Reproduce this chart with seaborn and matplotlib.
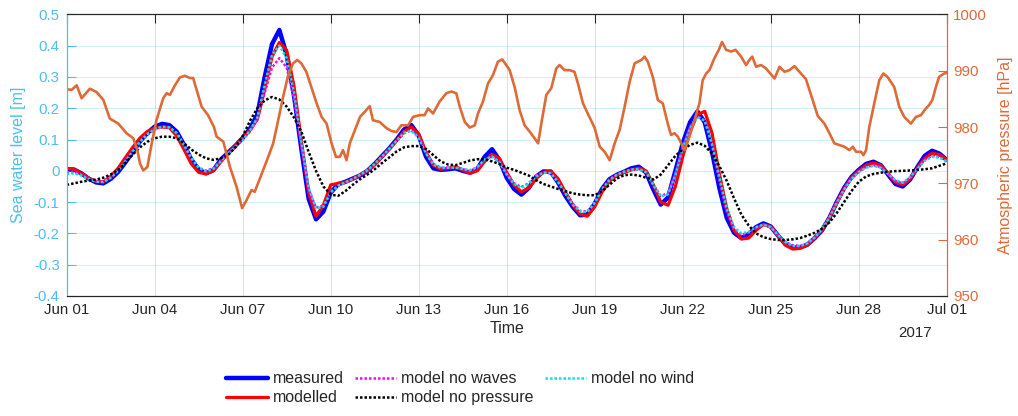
# Imports:
import numpy as np
import pandas as pd
import matplotlib
matplotlib.use("Agg")
import matplotlib.pyplot as plt
import matplotlib.dates as mdates
from matplotlib.ticker import FuncFormatter, MultipleLocator
import seaborn as sns

# Data:
# Sea level series sampled every 6 hours from 2017-06-01 00:00
start = pd.Timestamp("2017-06-01")
tide_days = np.arange(0, 30.01, 0.25)

measured = [
    0.005, 0.004, -0.008, -0.025, -0.037, -0.040, -0.026, -0.004,
    0.027, 0.060, 0.094, 0.121, 0.141, 0.150, 0.146, 0.125,
    0.083, 0.036, 0.004, -0.008, 0.002, 0.035, 0.058, 0.080,
    0.105, 0.135, 0.180, 0.300, 0.405, 0.450, 0.370, 0.240,
    0.070, -0.090, -0.155, -0.130, -0.070, -0.043, -0.035, -0.025,
    -0.015, 0.000, 0.022, 0.047, 0.072, 0.100, 0.132, 0.146,
    0.113, 0.045, 0.008, 0.003, 0.005, 0.008, 0.000, -0.006,
    0.006, 0.045, 0.069, 0.035, -0.022, -0.058, -0.076, -0.055,
    -0.019, -0.002, -0.003, -0.037, -0.080, -0.115, -0.142, -0.140,
    -0.105, -0.058, -0.027, -0.013, -0.003, 0.008, 0.013, -0.005,
    -0.060, -0.108, -0.085, 0.000, 0.088, 0.155, 0.190, 0.155,
    0.060, -0.055, -0.150, -0.198, -0.215, -0.202, -0.180, -0.168,
    -0.178, -0.207, -0.234, -0.245, -0.245, -0.236, -0.215, -0.190,
    -0.150, -0.100, -0.055, -0.020, 0.003, 0.022, 0.029, 0.018,
    -0.012, -0.042, -0.050, -0.028, 0.012, 0.048, 0.064, 0.055,
    0.035,
]

modelled = [
    0.008, 0.005, -0.008, -0.024, -0.034, -0.035, -0.018, 0.008,
    0.042, 0.075, 0.105, 0.126, 0.136, 0.140, 0.138, 0.112,
    0.068, 0.022, -0.005, -0.010, 0.000, 0.028, 0.055, 0.080,
    0.105, 0.130, 0.165, 0.260, 0.365, 0.410, 0.385, 0.270,
    0.095, -0.070, -0.145, -0.110, -0.045, -0.040, -0.036, -0.027,
    -0.013, 0.000, 0.020, 0.045, 0.070, 0.097, 0.125, 0.140,
    0.118, 0.060, 0.018, 0.005, 0.008, 0.013, 0.003, -0.008,
    0.000, 0.030, 0.052, 0.040, -0.005, -0.045, -0.067, -0.055,
    -0.025, -0.005, 0.000, -0.025, -0.068, -0.108, -0.138, -0.145,
    -0.115, -0.068, -0.033, -0.015, -0.005, 0.003, 0.008, 0.000,
    -0.045, -0.100, -0.110, -0.050, 0.045, 0.125, 0.180, 0.190,
    0.120, -0.010, -0.120, -0.190, -0.218, -0.215, -0.190, -0.172,
    -0.178, -0.208, -0.238, -0.250, -0.248, -0.237, -0.215, -0.190,
    -0.150, -0.102, -0.058, -0.022, 0.000, 0.018, 0.025, 0.018,
    -0.008, -0.036, -0.045, -0.026, 0.010, 0.040, 0.056, 0.052,
    0.035,
]

no_waves = [
    -0.005, -0.003, -0.012, -0.025, -0.033, -0.035, -0.022, 0.000,
    0.030, 0.062, 0.092, 0.115, 0.132, 0.140, 0.138, 0.120,
    0.082, 0.040, 0.010, 0.000, 0.008, 0.032, 0.055, 0.075,
    0.100, 0.125, 0.165, 0.250, 0.330, 0.360, 0.330, 0.230,
    0.080, -0.060, -0.118, -0.110, -0.070, -0.048, -0.038, -0.027,
    -0.015, 0.000, 0.020, 0.045, 0.070, 0.095, 0.120, 0.130,
    0.110, 0.060, 0.022, 0.010, 0.010, 0.010, 0.005, 0.000,
    0.010, 0.035, 0.045, 0.030, -0.010, -0.040, -0.052, -0.040,
    -0.015, -0.005, -0.008, -0.035, -0.070, -0.105, -0.128, -0.130,
    -0.100, -0.058, -0.028, -0.012, -0.003, 0.003, 0.005, -0.005,
    -0.045, -0.080, -0.072, -0.010, 0.075, 0.140, 0.175, 0.160,
    0.080, -0.030, -0.130, -0.185, -0.205, -0.198, -0.182, -0.172,
    -0.180, -0.205, -0.228, -0.238, -0.240, -0.232, -0.212, -0.185,
    -0.148, -0.100, -0.058, -0.025, -0.003, 0.012, 0.018, 0.012,
    -0.010, -0.032, -0.040, -0.022, 0.008, 0.035, 0.048, 0.044,
    0.030,
]

no_wind = [
    -0.010, -0.008, -0.015, -0.027, -0.035, -0.036, -0.022, 0.000,
    0.030, 0.062, 0.093, 0.117, 0.133, 0.141, 0.139, 0.121,
    0.083, 0.040, 0.010, -0.002, 0.006, 0.030, 0.055, 0.077,
    0.100, 0.128, 0.170, 0.275, 0.370, 0.400, 0.360, 0.250,
    0.090, -0.055, -0.120, -0.115, -0.068, -0.048, -0.037, -0.026,
    -0.013, 0.002, 0.022, 0.046, 0.071, 0.097, 0.122, 0.128,
    0.105, 0.055, 0.020, 0.010, 0.010, 0.010, 0.006, 0.002,
    0.012, 0.036, 0.046, 0.028, -0.012, -0.042, -0.055, -0.042,
    -0.018, -0.006, -0.008, -0.036, -0.072, -0.108, -0.130, -0.132,
    -0.102, -0.060, -0.030, -0.013, -0.003, 0.004, 0.006, -0.004,
    -0.045, -0.082, -0.075, -0.012, 0.072, 0.138, 0.172, 0.160,
    0.085, -0.020, -0.120, -0.180, -0.200, -0.195, -0.180, -0.172,
    -0.180, -0.205, -0.228, -0.240, -0.240, -0.232, -0.213, -0.186,
    -0.150, -0.103, -0.060, -0.026, -0.004, 0.010, 0.016, 0.010,
    -0.010, -0.030, -0.038, -0.020, 0.007, 0.032, 0.045, 0.042,
    0.030,
]

no_pressure = [
    -0.045, -0.040, -0.035, -0.031, -0.028, -0.022, -0.012, 0.003,
    0.025, 0.052, 0.075, 0.093, 0.104, 0.109, 0.109, 0.104,
    0.088, 0.068, 0.052, 0.040, 0.035, 0.040, 0.050, 0.075,
    0.110, 0.160, 0.200, 0.225, 0.236, 0.228, 0.205, 0.170,
    0.125, 0.060, 0.000, -0.050, -0.076, -0.080, -0.065, -0.045,
    -0.027, -0.012, 0.005, 0.025, 0.043, 0.062, 0.075, 0.079,
    0.079, 0.070, 0.050, 0.030, 0.020, 0.018, 0.025, 0.033,
    0.037, 0.037, 0.030, 0.022, 0.010, 0.003, -0.006, -0.015,
    -0.030, -0.042, -0.050, -0.058, -0.065, -0.072, -0.076, -0.078,
    -0.078, -0.065, -0.045, -0.025, -0.014, -0.012, -0.015, -0.022,
    -0.028, -0.012, 0.018, 0.048, 0.068, 0.083, 0.090, 0.080,
    0.055, 0.015, -0.032, -0.088, -0.140, -0.175, -0.200, -0.212,
    -0.218, -0.221, -0.221, -0.219, -0.215, -0.207, -0.198, -0.185,
    -0.165, -0.135, -0.100, -0.065, -0.035, -0.018, -0.010, -0.006,
    -0.003, -0.001, 0.000, 0.001, 0.003, 0.005, 0.008, 0.016,
    0.024,
]

# Atmospheric pressure (day offset from Jun 01, hPa)
pressure_days = [
    0.00, 0.17, 0.34, 0.51, 0.79, 1.02, 1.25, 1.47, 1.76, 2.04,
    2.27, 2.41, 2.50, 2.61, 2.75, 2.90, 3.06, 3.29, 3.41, 3.52,
    3.69, 3.86, 4.03, 4.20, 4.31, 4.43, 4.60, 4.82, 5.02, 5.11,
    5.34, 5.56, 5.79, 5.98, 6.13, 6.30, 6.41, 6.59, 6.87, 7.04,
    7.21, 7.38, 7.55, 7.72, 7.86, 8.00, 8.17, 8.34, 8.52, 8.69,
    8.86, 9.03, 9.18, 9.31, 9.42, 9.54, 9.65, 9.82, 10.00, 10.16,
    10.33, 10.44, 10.67, 10.90, 11.07, 11.24, 11.41, 11.64, 11.81, 12.03,
    12.20, 12.32, 12.49, 12.71, 12.94, 13.11, 13.28, 13.40, 13.57, 13.74,
    13.91, 14.02, 14.19, 14.36, 14.53, 14.70, 14.85, 14.98, 15.10, 15.27,
    15.44, 15.61, 15.78, 15.95, 16.07, 16.18, 16.35, 16.52, 16.69, 16.80,
    16.97, 17.14, 17.31, 17.43, 17.60, 17.82, 18.00, 18.17, 18.34, 18.51,
    18.68, 18.85, 19.02, 19.19, 19.36, 19.47, 19.59, 19.70, 19.81, 19.98,
    20.15, 20.32, 20.49, 20.60, 20.72, 20.83, 20.95, 21.06, 21.23, 21.40,
    21.57, 21.68, 21.80, 21.91, 22.08, 22.23, 22.34, 22.48, 22.65, 22.80,
    22.99, 23.16, 23.27, 23.37, 23.50, 23.67, 23.84, 24.13, 24.30, 24.47,
    24.64, 24.81, 24.98, 25.20, 25.43, 25.60, 25.83, 26.00, 26.17, 26.34,
    26.51, 26.68, 26.80, 26.91, 27.08, 27.16, 27.25, 27.36, 27.53, 27.70,
    27.84, 27.98, 28.21, 28.38, 28.55, 28.78, 28.95, 29.12, 29.29, 29.40,
    29.51, 29.63, 29.74, 29.91, 30.00,
]

pressure_hpa = [
    986.7, 986.6, 987.4, 985.1, 986.8, 986.2, 984.8, 981.5, 980.6, 978.9,
    978.0, 975.9, 973.5, 972.3, 972.9, 977.1, 981.2, 985.1, 986.0, 985.7,
    987.4, 988.8, 989.1, 988.7, 988.7, 986.6, 983.6, 982.1, 980.0, 978.3,
    977.4, 973.0, 969.4, 965.6, 967.0, 968.8, 968.5, 970.9, 974.7, 977.1,
    981.2, 985.4, 989.2, 991.3, 991.9, 991.3, 989.8, 987.1, 984.2, 981.8,
    980.6, 977.1, 974.7, 974.7, 975.9, 974.1, 977.1, 979.4, 981.8, 982.7,
    983.7, 981.2, 980.9, 979.8, 979.3, 979.1, 980.3, 980.3, 981.8, 982.1,
    982.1, 983.3, 982.4, 984.5, 986.0, 986.3, 986.0, 983.6, 980.9, 979.9,
    980.3, 982.4, 984.5, 987.7, 989.2, 991.6, 992.0, 991.0, 990.1, 987.1,
    983.0, 980.3, 979.2, 978.0, 977.1, 980.6, 985.7, 986.9, 990.4, 991.0,
    990.1, 990.1, 989.8, 987.7, 984.2, 981.8, 979.8, 976.5, 975.6, 974.1,
    977.1, 979.5, 983.6, 988.0, 991.3, 991.6, 991.9, 992.5, 991.6, 988.9,
    984.8, 984.2, 980.6, 978.6, 978.9, 978.3, 977.1, 975.9, 978.3, 981.2,
    984.2, 988.3, 989.5, 990.1, 992.2, 993.7, 995.1, 993.7, 993.4, 993.7,
    992.5, 991.0, 991.9, 992.5, 990.7, 991.0, 990.4, 988.6, 990.7, 989.8,
    990.1, 990.8, 989.8, 988.5, 984.8, 982.0, 980.6, 978.9, 977.1, 976.8,
    976.5, 975.9, 976.5, 975.6, 975.6, 975.0, 975.9, 980.0, 984.2, 988.3,
    989.5, 988.9, 987.1, 983.6, 981.8, 980.6, 981.8, 982.1, 983.3, 983.9,
    984.8, 987.1, 988.9, 989.5, 989.6,
]

# Colours:
sea_color = "#4DBEEE"
press_color = "#DE6A38"
dark = "#262626"

# Style:
sns.set_style("white")
plt.rcParams["font.family"] = ["Liberation Sans", "DejaVu Sans"]
plt.rcParams["axes.unicode_minus"] = False

tide_time = start + pd.to_timedelta(tide_days, unit="D")
press_time = start + pd.to_timedelta(pressure_days, unit="D")

# Figure:
fig = plt.figure(figsize=(10.18, 4.16), dpi=100)
ax = fig.add_axes([0.0655, 0.2885, 0.8645, 0.677])
ax2 = ax.twinx()

# Sea level lines:
series = [
    ("measured", measured, "#0000FF", 3.2, "-"),
    ("modelled", modelled, "#FF0000", 2.3, "-"),
    ("model no waves", no_waves, "#FF00FF", 1.8, (0, (1, 0.8))),
    ("model no pressure", no_pressure, "#000000", 1.8, (0, (1, 0.8))),
    ("model no wind", no_wind, "#00E6E6", 1.8, (0, (1, 0.8))),
]
draw_order = [0, 1, 2, 4, 3]
for i in draw_order:
    name, vals, col, lw, ls = series[i]
    sns.lineplot(x=tide_time, y=vals, ax=ax, color=col, linewidth=lw,
                 linestyle=ls, label=name)

# Pressure line:
sns.lineplot(x=press_time, y=pressure_hpa, ax=ax2, color=press_color,
             linewidth=1.9)

# Axes:
ax.set_xlim(start, pd.Timestamp("2017-07-01"))
ax.set_ylim(-0.4, 0.5)
ax2.set_ylim(950, 1000)

ax.set_xticks(pd.date_range("2017-06-01", "2017-07-01", freq="3D"))
ax.xaxis.set_major_formatter(mdates.DateFormatter("%b %d"))
ax.yaxis.set_major_locator(MultipleLocator(0.1))
ax.yaxis.set_major_formatter(FuncFormatter(lambda v, p: f"{round(v, 1):g}".replace("-0", "-0") if abs(v) > 1e-9 else "0"))
ax2.yaxis.set_major_locator(MultipleLocator(10))

ax.set_axisbelow(True)
ax.grid(axis="x", color=dark, alpha=0.15, linewidth=0.7)
ax.grid(axis="y", color=sea_color, alpha=0.25, linewidth=0.7)

ax.tick_params(axis="x", direction="in", length=6.5, width=0.8, colors=dark,
               labelsize=10.8, top=True, pad=5)
ax.tick_params(axis="y", direction="in", length=6.5, width=0.8, colors=sea_color,
               labelsize=10.8, pad=5)
ax2.tick_params(axis="y", direction="in", length=6.5, width=0.8, colors=press_color,
                labelsize=10.8, pad=4.5)

for a in (ax, ax2):
    a.spines["top"].set_color(dark)
    a.spines["bottom"].set_color(dark)
    a.spines["left"].set_color(sea_color)
    a.spines["right"].set_color(press_color)
    for s in a.spines.values():
        s.set_linewidth(0.8)

ax.set_xlabel("Time", fontsize=11.5, color=dark, labelpad=3)
ax.set_ylabel("Sea water level [m]", fontsize=11.5, color=sea_color, labelpad=6)
ax2.set_ylabel("Atmospheric pressure [hPa]", fontsize=11.5, color=press_color, labelpad=8)

ax.annotate("2017", xy=(1, 0), xycoords="axes fraction", xytext=(-23, -26.5),
            textcoords="offset points", ha="center", va="center",
            fontsize=10.8, color=dark)

# Legend:
if ax.get_legend() is not None:
    ax.get_legend().remove()
handles, labels = ax.get_legend_handles_labels()
order = [labels.index(n) for n in ["measured", "modelled", "model no waves",
                                   "model no pressure", "model no wind"]]
fig.legend([handles[i] for i in order], [labels[i] for i in order],
           loc="center", bbox_to_anchor=(0.452, 0.067), ncol=3, frameon=False,
           fontsize=11.5, handlelength=2.6, handletextpad=0.3,
           columnspacing=0.7, labelspacing=0.25)

# Save:
fig.savefig("out.png", dpi=100)
